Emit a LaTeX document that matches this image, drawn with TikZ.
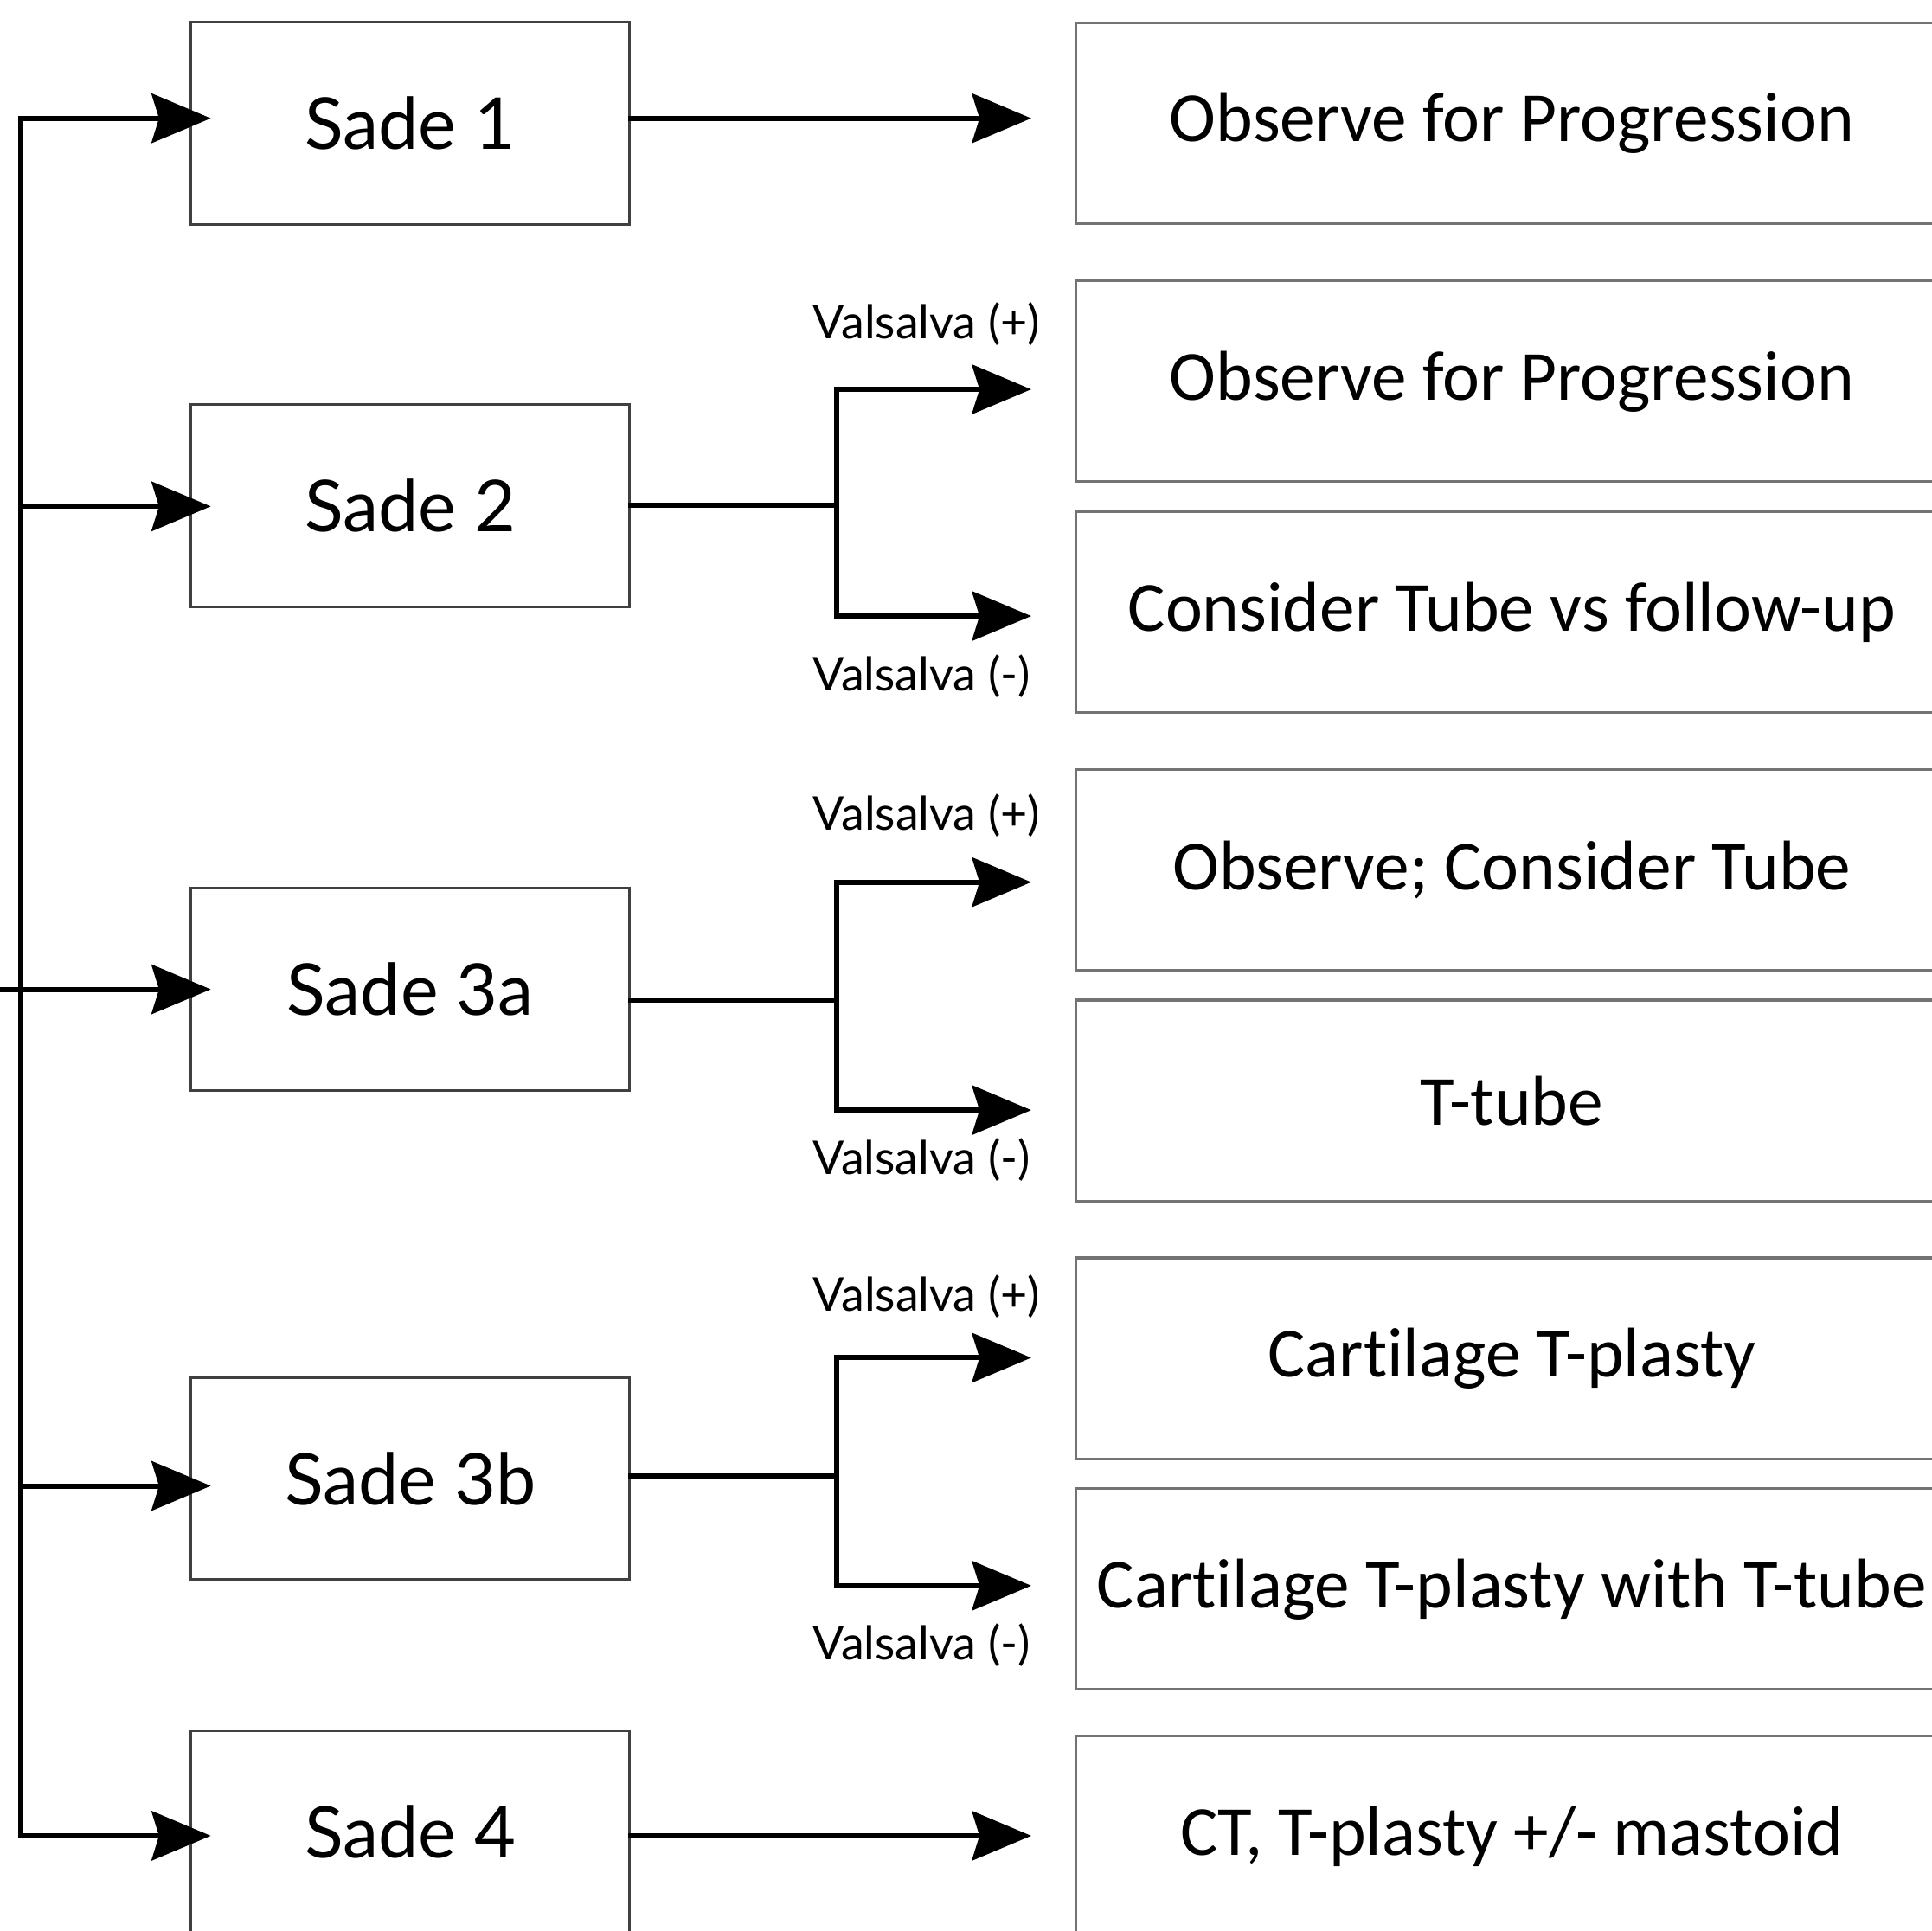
\documentclass[tikz,border=0pt]{standalone}
\usepackage{fontspec}
\setmainfont{Carlito}[Ligatures=NoCommon]
\newfontfamily\gradefont{Lato}
\usetikzlibrary{arrows.meta,positioning}

\begin{document}
\begin{tikzpicture}[
        x=0.02cm, y=-0.02cm,
        node distance=0.44cm,
        grade/.style={rectangle, draw=black!75, line width=1.1pt, minimum width=7.12cm, minimum height=3.28cm, font=\gradefont\fontsize{33}{40}\selectfont},
        plan/.style={rectangle, draw=black!55, line width=1.3pt, minimum width=14.16cm, minimum height=3.26cm, font=\fontsize{32.5}{38}\selectfont},
        wire/.style={draw, line width=2.4pt, line cap=rect},
        arrow/.style={wire, -{Stealth[length=0.96cm, width=0.8cm, inset=0.12cm]}},
        feedin/.style={arrow, shorten >=-0.34cm},
        toplan/.style={arrow, shorten >=0.7cm},
        valsalva/.style={font=\gradefont\fontsize{21.5}{26}\selectfont, inner sep=0pt}
    ]
    \useasboundingbox (0,0) rectangle (1568,1566.6);
    \clip (0,0) rectangle (1568,1566.6);

    % Grades (left column)
    \node [grade] (sade1) at (333,100) {Sade 1};
    \node [grade] (sade2) at (333,410.5) {Sade 2};
    \node [grade] (sade3a) at (333,803) {Sade 3a};
    \node [grade] (sade3b) at (333,1200) {Sade 3b};
    \node [grade] (sade4) at (333,1487) {Sade 4};

    % Management (right column)
    \node [plan] (obs1) at (1227,100) {Observe for Progression};
    \node [plan] (obs2) at (1227,309.5) {Observe for Progression};
    \node [plan, below=of obs2] (tube2) {Consider Tube vs follow-up};
    \node [plan] (obs3) at (1227,706) {Observe; Consider Tube};
    \node [plan, below=of obs3] (ttube3) {T-tube};
    \node [plan] (plasty) at (1227,1102.5) {Cartilage T-plasty};
    \node [plan, below=of plasty] (plastytube) {Cartilage T-plasty with T-tube};
    \node [plan] (mastoid) at (1227,1490.5) {CT, T-plasty +/- mastoid};

    % Trunk on the left
    \coordinate (t1) at (17,96);
    \coordinate (t2) at (17,411);
    \coordinate (t3) at (17,803);
    \coordinate (t4) at (17,1206);
    \coordinate (t5) at (17,1490);
    \coordinate (feed) at (-20,803);

    \path [wire] (t1) -- (t5);
    \path [wire] (feed) -- (t3);
    \path [feedin] (t1) -- (t1 -| sade1.west);
    \path [feedin] (t2) -- (t2 -| sade2.west);
    \path [feedin] (t3) -- (t3 -| sade3a.west);
    \path [feedin] (t4) -- (t4 -| sade3b.west);
    \path [feedin] (t5) -- (t5 -| sade4.west);

    % Straight links
    \path [toplan] (sade1.east |- t1) -- (t1 -| obs1.west);
    \path [toplan] (sade4.east |- t5) -- (t5 -| mastoid.west);

    % Forks - Valsalva (+) up, Valsalva (-) down
    \coordinate (f2) at (679,410);
    \coordinate (u2) at (679,316);
    \coordinate (d2) at (679,500);
    \path [wire] (sade2.east |- f2) -- (f2);
    \path [toplan] (f2) -- (u2) -- (u2 -| obs2.west);
    \path [toplan] (f2) -- (d2) -- (d2 -| tube2.west);

    \coordinate (f3) at (679,812);
    \coordinate (u3) at (679,716);
    \coordinate (d3) at (679,901);
    \path [wire] (sade3a.east |- f3) -- (f3);
    \path [toplan] (f3) -- (u3) -- (u3 -| obs3.west);
    \path [toplan] (f3) -- (d3) -- (d3 -| ttube3.west);

    \coordinate (f4) at (679,1198);
    \coordinate (u4) at (679,1102);
    \coordinate (d4) at (679,1287);
    \path [wire] (sade3b.east |- f4) -- (f4);
    \path [toplan] (f4) -- (u4) -- (u4 -| plasty.west);
    \path [toplan] (f4) -- (d4) -- (d4 -| plastytube.west);

    % Valsalva labels
    \node [valsalva] (vp2) at (752,263) {Valsalva (+)};
    \node [valsalva] (vm2) at (748,549) {Valsalva (-)};
    \node [valsalva] (vp3) at (752,662) {Valsalva (+)};
    \node [valsalva] (vm3) at (748,941) {Valsalva (-)};
    \node [valsalva] (vp4) at (752,1052) {Valsalva (+)};
    \node [valsalva] (vm4) at (748,1335) {Valsalva (-)};

\end{tikzpicture}
\end{document}
